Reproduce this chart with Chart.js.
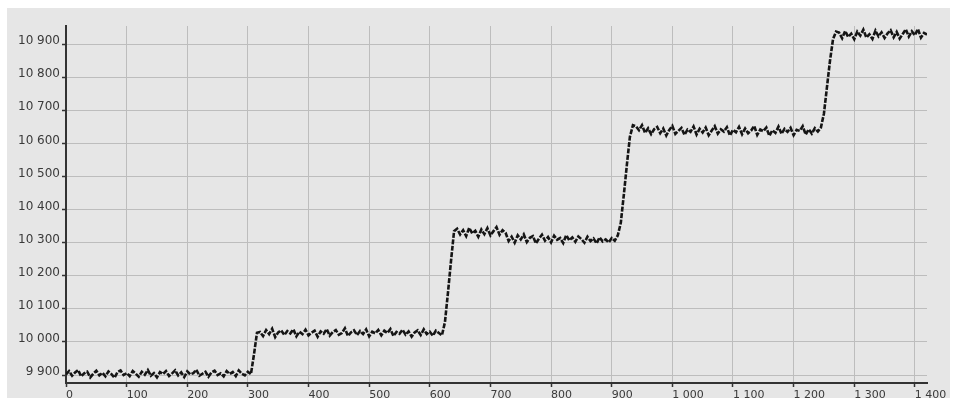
<!DOCTYPE html>
<html>
<head>
<meta charset="utf-8">
<script src="https://cdn.jsdelivr.net/npm/chart.js@4/dist/chart.umd.min.js"></script>
<style>
html,body{margin:0;padding:0;background:#fff;}
canvas{display:block;}
</style>
</head>
<body>
<canvas id="c" width="956" height="398"></canvas>
<script>
// x positions of samples
const xValues = [
0,5,10,15,20,25,30,35,40,45,50,55,60,65,70,75,80,85,90,95,
100,105,110,115,120,125,130,135,140,145,150,155,160,165,170,175,180,185,190,195,
200,205,210,215,220,225,230,235,240,245,250,255,260,265,270,275,280,285,290,295,
300,305,310,315,320,325,330,335,340,345,350,355,360,365,370,375,380,385,390,395,
400,405,410,415,420,425,430,435,440,445,450,455,460,465,470,475,480,485,490,495,
500,505,510,515,520,525,530,535,540,545,550,555,560,565,570,575,580,585,590,595,
600,605,610,615,620,625,630,635,640,645,650,655,660,665,670,675,680,685,690,695,
700,705,710,715,720,725,730,735,740,745,750,755,760,765,770,775,780,785,790,795,
800,805,810,815,820,825,830,835,840,845,850,855,860,865,870,875,880,885,890,895,
900,905,910,915,920,925,930,935,940,945,950,955,960,965,970,975,980,985,990,995,
1000,1005,1010,1015,1020,1025,1030,1035,1040,1045,1050,1055,1060,1065,1070,1075,1080,1085,1090,1095,
1100,1105,1110,1115,1120,1125,1130,1135,1140,1145,1150,1155,1160,1165,1170,1175,1180,1185,1190,1195,
1200,1205,1210,1215,1220,1225,1230,1235,1240,1245,1250,1255,1260,1265,1270,1275,1280,1285,1290,1295,
1300,1305,1310,1315,1320,1325,1330,1335,1340,1345,1350,1355,1360,1365,1370,1375,1380,1385,1390,1395,
1400,1405,1410,1415,1420
];

// measured signal
const signal = [
// 0..300
9902,9912,9898,9908,9915,9896,9905,9910,9893,9904,
9913,9899,9907,9896,9911,9903,9892,9909,9914,9900,
9906,9897,9912,9904,9895,9910,9901,9915,9898,9906,
9893,9909,9903,9912,9897,9905,9914,9899,9908,9894,
9911,9902,9906,9916,9898,9904,9910,9895,9908,9913,
9900,9905,9896,9912,9903,9909,9897,9914,9904,9899,
9910,
// 305..315
9903,9962,10028,
// 320..620
10030,10018,10036,10024,10040,10015,10029,10035,10021,10033,
10026,10038,10017,10031,10024,10037,10020,10028,10034,10016,
10032,10025,10039,10019,10030,10036,10022,10027,10041,10018,
10029,10035,10021,10033,10024,10038,10017,10031,10026,10036,
10020,10034,10027,10039,10018,10030,10025,10037,10022,10032,
10016,10029,10035,10021,10038,10024,10031,10019,10034,10027,
10020,
// 625..640
10060,10150,10245,10335,
// 645..725
10342,10325,10338,10320,10345,10328,10336,10318,10340,10326,10344,10322,10335,10347,10324,10338,10330,
// 730..910
10305,10318,10300,10322,10310,10325,10302,10315,10320,10298,
10312,10324,10306,10317,10301,10321,10309,10314,10299,10323,
10307,10316,10303,10319,10311,10300,10318,10305,10313,10298,
10316,10304,10310,10301,10314,10306,10322,
// 915..935
10360,10445,10535,10620,10655,
// 940..1245
10652,10640,10655,10632,10646,10628,10643,10650,10631,10645,
10624,10641,10653,10629,10638,10647,10626,10642,10635,10651,
10627,10644,10633,10648,10625,10639,10652,10630,10643,10636,
10649,10624,10641,10634,10650,10628,10645,10631,10639,10653,
10626,10642,10637,10648,10623,10640,10632,10651,10629,10644,
10635,10647,10625,10641,10638,10652,10627,10643,10630,10646,
10636,10648,
// 1250..1270
10690,10770,10850,10915,10938,
// 1275..1420
10935,10918,10940,10922,10932,10915,10938,10926,10944,10920,
10930,10916,10941,10924,10936,10919,10933,10942,10921,10937,
10917,10931,10945,10923,10939,10927,10946,10920,10934,10929
];

const xTicks = [0,100,200,300,400,500,600,700,800,900,1000,1100,1200,1300,1400];
const xTickLabels = ['0','100','200','300','400','500','600','700','800','900','1 000','1 100','1 200','1 300','1 400'];
const yTicks = [9900,10000,10100,10200,10300,10400,10500,10600,10700,10800,10900];
const yTickLabels = ['9 900','10 000','10 100','10 200','10 300','10 400','10 500','10 600','10 700','10 800','10 900'];

const bgPlugin = {
  id: 'bg',
  beforeDraw(chart) {
    const ctx = chart.ctx;
    ctx.save();
    ctx.fillStyle = '#ffffff';
    ctx.fillRect(0, 0, chart.width, chart.height);
    ctx.fillStyle = '#e6e6e6';
    ctx.fillRect(7, 8, 943, 390);
    ctx.restore();
  }
};

new Chart(document.getElementById('c'), {
  type: 'line',
  data: {
    datasets: [{
      data: xValues.map((x, i) => ({ x: x, y: signal[i] })),
      borderColor: '#151515',
      borderWidth: 2.6,
      borderDash: [5, 1.5],
      pointRadius: 0,
      tension: 0,
      fill: false
    }]
  },
  options: {
    responsive: false,
    devicePixelRatio: 1,
    animation: false,
    layout: { padding: { top: 26, right: 29, left: 0, bottom: 0 } },
    plugins: { legend: { display: false }, tooltip: { enabled: false } },
    scales: {
      x: {
        type: 'linear',
        min: 0,
        max: 1420,
        afterBuildTicks: (axis) => { axis.ticks = xTicks.map(v => ({ value: v })); },
        afterFit: (s) => { s.height = 15; },
        ticks: {
          autoSkip: false,
          maxRotation: 0,
          align: 'start',
          padding: 2,
          color: '#3a3a3a',
          font: { family: 'DejaVu Sans', size: 11 },
          callback: (v, i) => xTickLabels[i]
        },
        grid: { color: '#bdbdbd', lineWidth: 1, tickColor: '#333', tickLength: 4, tickWidth: 1.5 },
        border: { color: '#333', width: 2 }
      },
      y: {
        type: 'linear',
        min: 9876,
        max: 10955,
        afterBuildTicks: (axis) => { axis.ticks = yTicks.map(v => ({ value: v })); },
        afterFit: (s) => { s.width = 66; },
        ticks: {
          autoSkip: false,
          padding: 2,
          labelOffset: -3,
          color: '#3a3a3a',
          font: { family: 'DejaVu Sans', size: 12 },
          callback: (v, i) => yTickLabels[i]
        },
        grid: { color: '#bdbdbd', lineWidth: 1, tickColor: '#333', tickLength: 4, tickWidth: 1.5 },
        border: { color: '#333', width: 2 }
      }
    }
  },
  plugins: [bgPlugin]
});
</script>
</body>
</html>
